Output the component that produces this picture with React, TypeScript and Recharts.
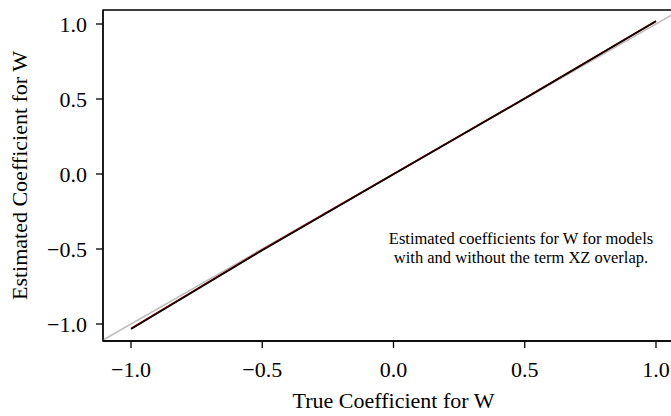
import React from 'react';
import { ComposedChart, Line, XAxis, YAxis, ReferenceLine, ReferenceArea } from 'recharts';

// True coefficient values (x) and estimated coefficients (y)
const trueCoef = [-1, -0.5, 0, 0.5, 1];
const estWithXZ = [-1.03, -0.505, 0.0, 0.505, 1.02];
const estWithoutXZ = [-1.033, -0.508, -0.002, 0.503, 1.018];

const xTicks = [-1, -0.5, 0, 0.5, 1];
const yTicks = [-1, -0.5, 0, 0.5, 1];
const xDomain: [number, number] = [-1.1067, 1.1067];
const yDomain: [number, number] = [-1.1133, 1.0933];

const xTitle = 'True Coefficient for W';
const yTitle = 'Estimated Coefficient for W';
const noteLines = ['Estimated coefficients for W for models', 'with and without the term XZ overlap.'];

const data = trueCoef.map((x, i) => ({ x, withXZ: estWithXZ[i], withoutXZ: estWithoutXZ[i] }));

const FONT = '"Liberation Serif", "Times New Roman", serif';
const fmt = (v: number) => (v < 0 ? '\u2212' + Math.abs(v).toFixed(1) : v.toFixed(1));

export default function App() {
  return (
    <div style={{ position: 'absolute', left: 0, top: 0, width: 671, height: 416, overflow: 'hidden', background: '#fff' }}>
      <ComposedChart
        width={700}
        height={416}
        data={data}
        margin={{ top: 10, right: 16, bottom: 0, left: 0 }}
        style={{ fontFamily: FONT }}
      >
        <XAxis
          dataKey="x"
          type="number"
          domain={xDomain}
          ticks={xTicks}
          allowDataOverflow
          tickFormatter={fmt}
          height={75}
          tickSize={7}
          tickMargin={13}
          axisLine={{ stroke: '#000', strokeWidth: 1.3 }}
          tickLine={{ stroke: '#000', strokeWidth: 1.3 }}
          tick={{ fill: '#000', fontSize: 22, fontFamily: FONT }}
          label={{
            content: (props: any) => {
              const vb = props.viewBox || { x: 103, y: 341, width: 581, height: 75 };
              return (
                <text x={vb.x + vb.width / 2} y={408} textAnchor="middle" fontSize={22} fontFamily={FONT} fill="#000">
                  {xTitle}
                </text>
              );
            },
          }}
        />
        <YAxis
          type="number"
          domain={yDomain}
          ticks={yTicks}
          allowDataOverflow
          tickFormatter={fmt}
          width={103}
          tickSize={7}
          tickMargin={9}
          axisLine={{ stroke: '#000', strokeWidth: 1.3 }}
          tickLine={{ stroke: '#000', strokeWidth: 1.3 }}
          tick={{ fill: '#000', fontSize: 22, fontFamily: FONT }}
          label={{
            content: (props: any) => {
              const vb = props.viewBox || { x: 0, y: 10, width: 103, height: 331 };
              const cx = 27;
              const cy = vb.y + vb.height / 2;
              return (
                <text x={cx} y={cy} transform={`rotate(-90, ${cx}, ${cy})`} textAnchor="middle" fontSize={22} fontFamily={FONT} fill="#000">
                  {yTitle}
                </text>
              );
            },
          }}
        />
        <ReferenceArea x1={xDomain[0]} x2={xDomain[1]} y1={yDomain[0]} y2={yDomain[1]} fill="none" stroke="#000" strokeWidth={1.3} ifOverflow="visible" />
        <ReferenceLine
          segment={[{ x: xDomain[0], y: xDomain[0] }, { x: yDomain[1], y: yDomain[1] }]}
          stroke="#bebebe"
          strokeWidth={1.5}
          ifOverflow="visible"
        />
        <Line dataKey="withXZ" stroke="#ff0000" strokeWidth={1.6} dot={false} isAnimationActive={false} />
        <Line dataKey="withoutXZ" stroke="#000" strokeWidth={1.8} dot={false} isAnimationActive={false} />
      </ComposedChart>
      <div
        style={{
          position: 'absolute',
          left: 321,
          width: 400,
          top: 229,
          textAlign: 'center',
          fontFamily: FONT,
          fontSize: 16.5,
          lineHeight: '19px',
          color: '#000',
        }}
      >
        {noteLines.map((l, i) => (
          <div key={i}>{l}</div>
        ))}
      </div>
    </div>
  );
}
